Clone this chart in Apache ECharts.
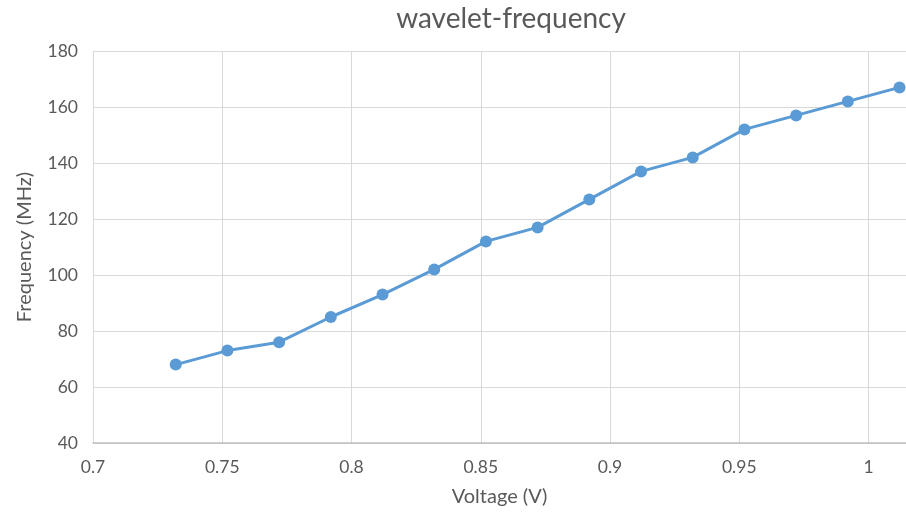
<!DOCTYPE html>
<html>
<head>
<meta charset="utf-8">
<script src="https://cdn.jsdelivr.net/npm/echarts@6/dist/echarts.min.js"></script>
<style>
html, body { margin: 0; padding: 0; background: #fff; }
#chart { width: 906px; height: 512px; }
</style>
</head>
<body>
<div id="chart"></div>
<script>
const voltage = [0.732, 0.752, 0.772, 0.792, 0.812, 0.832, 0.852, 0.872, 0.892, 0.912, 0.932, 0.952, 0.972, 0.992, 1.012];
const frequency = [68, 73, 76, 85, 93, 102, 112, 117, 127, 137, 142, 152, 157, 162, 167];
const xTicks = [0.7, 0.75, 0.8, 0.85, 0.9, 0.95, 1];
const yTicks = [40, 60, 80, 100, 120, 140, 160, 180];

const textColor = "#595959";
const gridColor = "#d9d9d9";
const font = "Lato, 'Open Sans', sans-serif";

const chart = echarts.init(document.getElementById("chart"));
chart.setOption({
    animation: false,
    title: {
        text: "wavelet-frequency",
        left: 506,
        textAlign: "center",
        top: 0,
        textStyle: { color: textColor, fontSize: 28, fontWeight: "normal", fontFamily: font },
    },
    grid: { left: 93, right: 0, top: 51, bottom: 68, containLabel: false },
    xAxis: {
        type: "value",
        min: 0.7,
        max: 1.0145,
        interval: 0.05,
        name: "Voltage (V)",
        nameLocation: "middle",
        nameGap: 44,
        nameTextStyle: { color: textColor, fontSize: 20, fontFamily: font },
        axisLine: { show: true, lineStyle: { color: "#bfbfbf", width: 1.5 } },
        axisTick: { show: false },
        splitLine: { show: true, lineStyle: { color: gridColor, width: 1 } },
        axisLabel: {
            color: textColor,
            fontSize: 17.5,
            fontFamily: font,
            margin: 15,
            showMaxLabel: false,
            formatter: (v) => {
                const t = xTicks.find((k) => Math.abs(k - v) < 1e-6);
                return t === undefined ? "" : String(t);
            },
        },
    },
    yAxis: {
        type: "value",
        min: yTicks[0],
        max: yTicks[yTicks.length - 1],
        interval: 20,
        name: "Frequency (MHz)",
        nameLocation: "middle",
        nameGap: 58,
        nameTextStyle: { color: textColor, fontSize: 20, fontFamily: font },
        axisLine: { show: false },
        axisTick: { show: false },
        splitLine: { show: true, lineStyle: { color: gridColor, width: 1 } },
        axisLabel: { color: textColor, fontSize: 17.5, fontFamily: font, margin: 15 },
    },
    series: [
        {
            type: "line",
            data: voltage.map((v, i) => [v, frequency[i]]),
            symbol: "circle",
            symbolSize: 12,
            lineStyle: { color: "#5b9bd5", width: 3 },
            itemStyle: { color: "#5b9bd5" },
        },
    ],
});
</script>
</body>
</html>
